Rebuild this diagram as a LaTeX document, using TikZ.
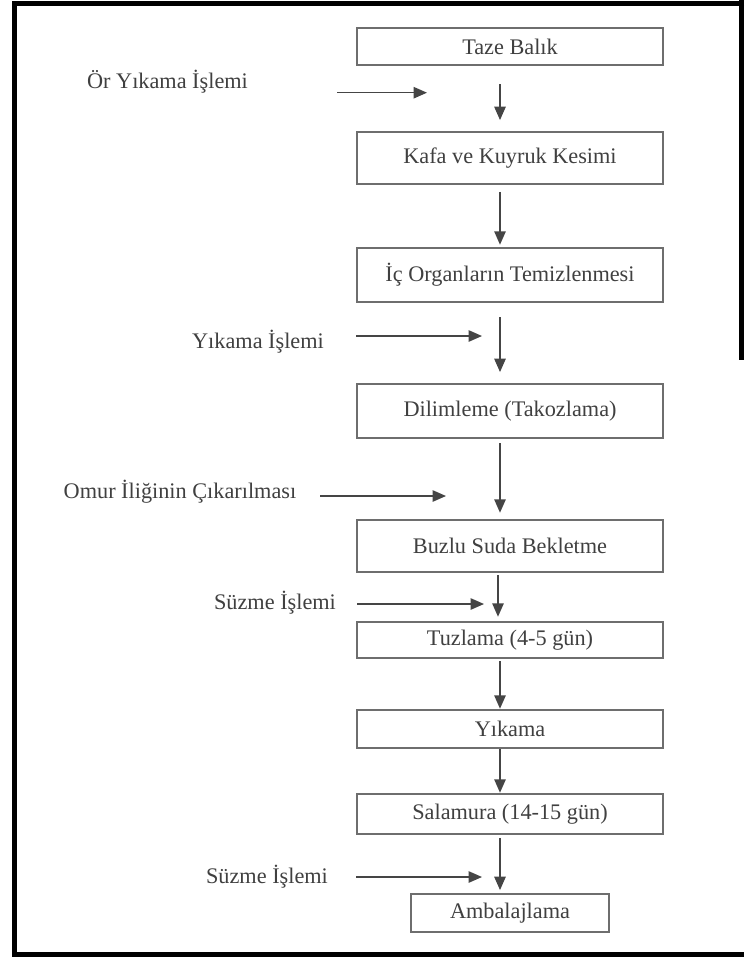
\documentclass[tikz,border=0pt]{standalone}
\usepackage{fontspec}
\setmainfont{Liberation Serif}
\usepackage{xcolor}
\usepackage{tikz}
\usetikzlibrary{arrows.meta,positioning}
\definecolor{ScanInk}{HTML}{404040}
\definecolor{ScanRule}{HTML}{6E6E6E}
\definecolor{ScanArrow}{HTML}{454545}

\begin{document}
\begin{tikzpicture}[
  x=0.75pt,y=-0.75pt,
  stepbox/.style={draw=ScanRule,line width=1.4pt,minimum width=229.5pt,inner sep=0pt,align=center,text=ScanInk,font=\fontsize{16.7}{20}\selectfont},
  note/.style={text=ScanInk,font=\fontsize{16.7}{20}\selectfont,inner sep=0pt},
  flow/.style={draw=ScanArrow,line width=1.1pt,-{Triangle[length=10pt,width=8.5pt]}},
  frame/.style={draw=black,line width=4pt}
]
\useasboundingbox (0,0) rectangle (744,957);
\fill[white] (0,0) rectangle (744,957);
% page frame of the scan
\draw[frame] (744,3.5) -- (14.5,3.5) -- (14.5,955) -- (744,955);
\draw[frame] (741.5,0) -- (741.5,360);

% main line
\node[stepbox,minimum height=27.5pt] (taze) at (510,46.5) {Taze Balık};
\node[stepbox,minimum height=39.5pt] (kafa) at (510,158) {Kafa ve Kuyruk Kesimi};
\node[stepbox,minimum height=41pt] (organ) at (510,275) {İç Organların Temizlenmesi};
\node[stepbox,minimum height=41pt] (dilim) at (510,411) {Dilimleme (Takozlama)};
\node[stepbox,minimum height=39.5pt] (buzlu) at (510,546) {Buzlu Suda Bekletme};
\node[stepbox,minimum height=27.5pt] (tuzlama) at (510,640) {Tuzlama (4-5 gün)};
\node[stepbox,minimum height=29pt] (yikama) at (510,729) {Yıkama};
\node[stepbox,minimum height=30.5pt] (salamura) at (510,814) {Salamura (14-15 gün)};
\node[stepbox,minimum height=29pt,minimum width=148.5pt] (ambalaj) at (510,913) {Ambalajlama};

\draw[flow,shorten <=14pt,shorten >=8pt] ([xshift=-7.5pt]taze.south) -- ([xshift=-7.5pt]kafa.north);
\draw[flow,shorten <=5pt,shorten >=1.5pt] ([xshift=-7.5pt]kafa.south) -- ([xshift=-7.5pt]organ.north);
\draw[flow,shorten <=10.5pt,shorten >=8pt] ([xshift=-7.5pt]organ.south) -- ([xshift=-7.5pt]dilim.north);
\draw[flow,shorten <=3pt,shorten >=4.5pt] ([xshift=-7.5pt]dilim.south) -- ([xshift=-7.5pt]buzlu.north);
\draw[flow,shorten <=1.5pt,shorten >=3pt] ([xshift=-9pt]buzlu.south) -- ([xshift=-9pt]tuzlama.north);
\draw[flow,shorten <=1.5pt] ([xshift=-7.5pt]tuzlama.south) -- ([xshift=-7.5pt]yikama.north);
\draw[flow] ([xshift=-7.5pt]yikama.south) -- ([xshift=-7.5pt]salamura.north);
\draw[flow,shorten <=2pt,shorten >=2pt] ([xshift=-7.5pt]salamura.south) -- ([xshift=-7.5pt]ambalaj.north);

% side operations
\node[note] (onyikama) at (167.5,82) {Ör Yıkama İşlemi};
\node[note] (yikamais) at (258,342) {Yıkama İşlemi};
\node[note] (omur) at (180,492) {Omur İliğinin Çıkarılması};
\node[note] (suzme1) at (275,603) {Süzme İşlemi};
\node[note] (suzme2) at (267,877) {Süzme İşlemi};

\coordinate (in1a) at (337,92.7);  \coordinate (in1b) at (427,92.7);
\coordinate (in2a) at (356,336);   \coordinate (in2b) at (482,336);
\coordinate (in3a) at (320,496);   \coordinate (in3b) at (446,496);
\coordinate (in4a) at (357,604);   \coordinate (in4b) at (484,604);
\coordinate (in5a) at (356,877);   \coordinate (in5b) at (482,877);
\draw[flow] (in1a) -- (in1b);
\draw[flow] (in2a) -- (in2b);
\draw[flow] (in3a) -- (in3b);
\draw[flow] (in4a) -- (in4b);
\draw[flow] (in5a) -- (in5b);
\end{tikzpicture}
\end{document}
